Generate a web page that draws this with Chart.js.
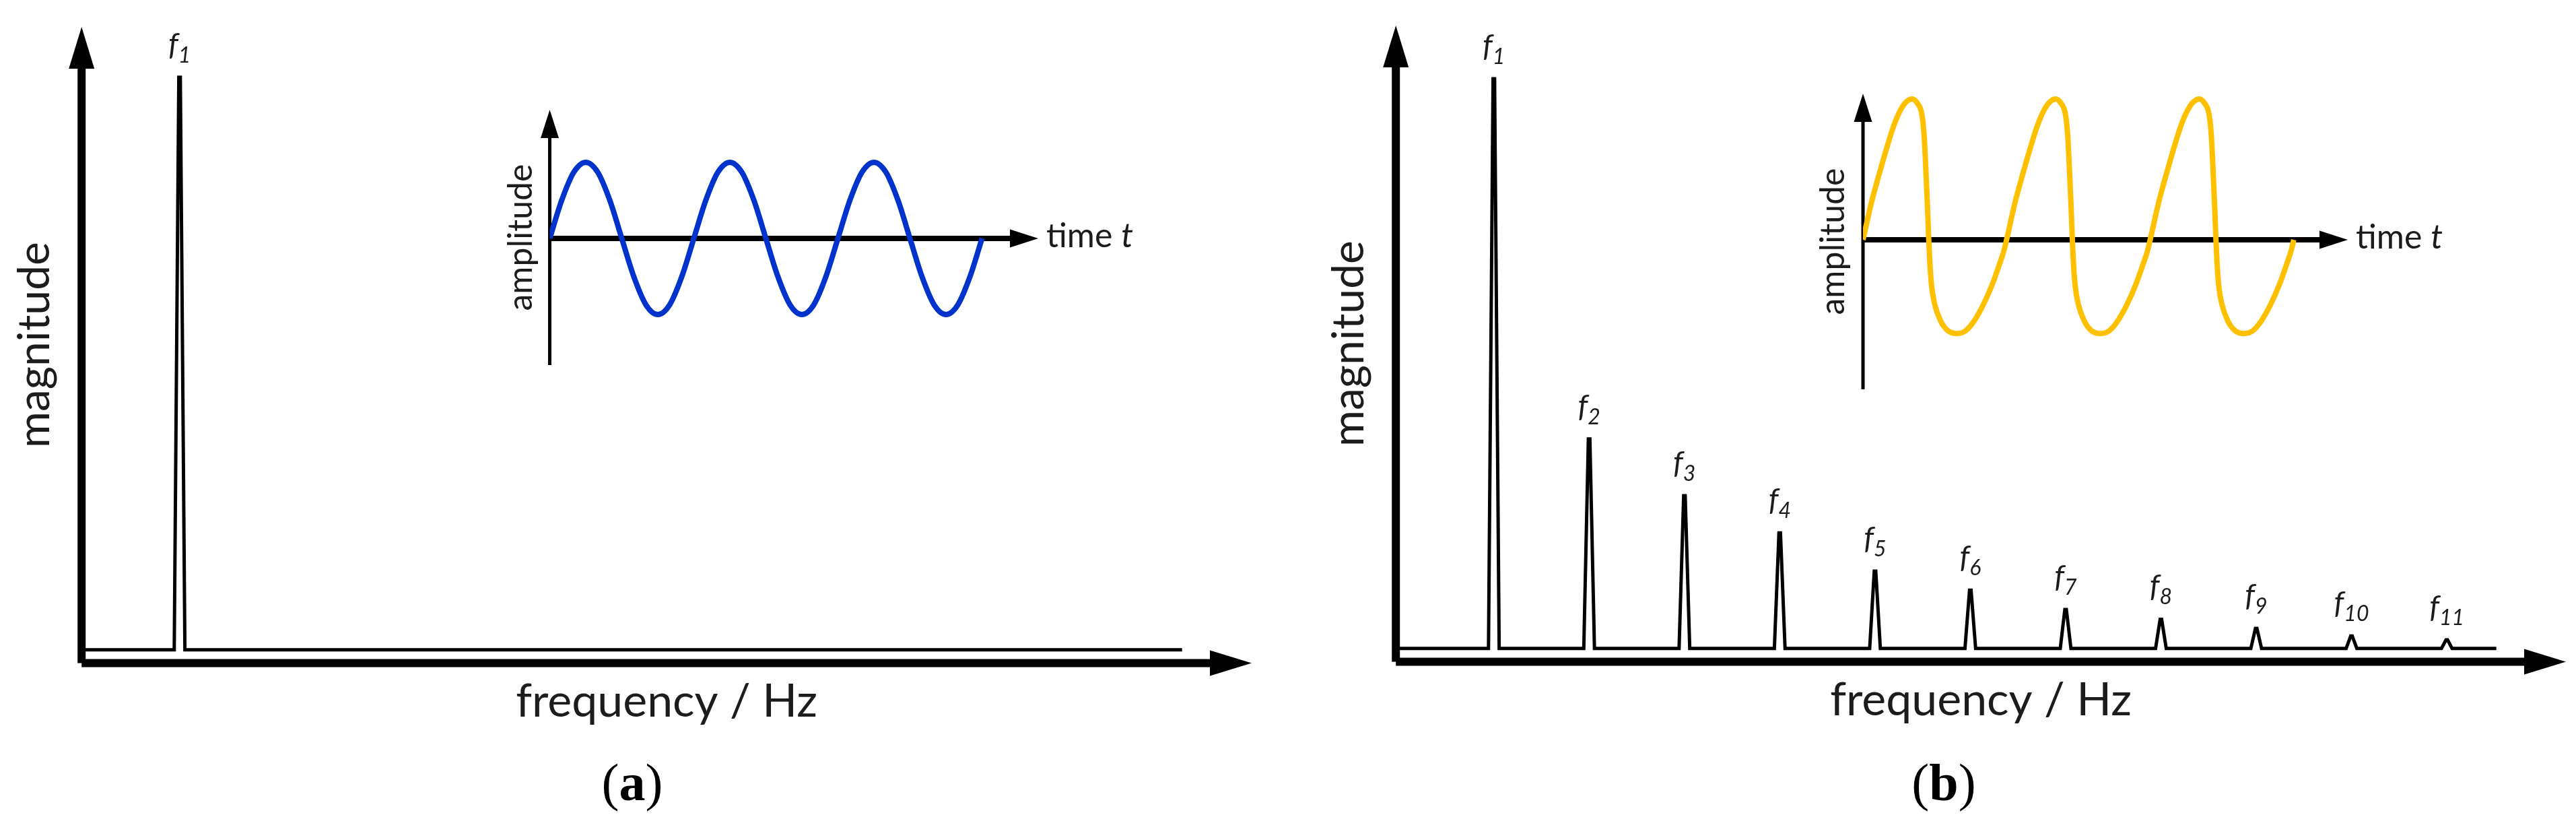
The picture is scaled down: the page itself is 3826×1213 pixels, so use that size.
<!DOCTYPE html>
<html>
<head>
<meta charset="utf-8">
<title>Spectrum of a sine and a distorted wave</title>
<script src="https://cdn.jsdelivr.net/npm/chart.js@4"></script>
<style>
    html, body { margin: 0; padding: 0; background: #fff; }
    body { position: relative; width: 3826px; height: 1213px; overflow: hidden; }
    canvas { position: absolute; }
    .caption {
        position: absolute; top: 1123px; width: 300px; text-align: center;
        font: 78px/1 "Liberation Serif", serif; color: #000;
    }
</style>
</head>
<body>
<canvas id="spectrumA" width="1900" height="1100" style="left:0;top:0"></canvas>
<canvas id="spectrumB" width="1900" height="1100" style="left:1952px;top:-2px"></canvas>
<canvas id="waveA" width="1000" height="480" style="left:700px;top:120px"></canvas>
<canvas id="waveB" width="1000" height="500" style="left:2650px;top:100px"></canvas>
<div class="caption" style="left:789px">(<b>a</b>)</div>
<div class="caption" style="left:2737px">(<b>b</b>)</div>

<script>
    // Peaks, x is the harmonic number, y is percent of f1
    var harmonicsA = [1];
    var magnitudesA = [100];
    var harmonicsB = [1, 2, 3, 4, 5, 6, 7, 8, 9, 10, 11];
    var magnitudesB = [99.5, 36.6, 26.7, 20.2, 13.5, 10.2, 6.8, 5.1, 3.5, 2.2, 1.5];
    var baselineEnd = 11.52;
    var peakHalfWidth = 0.056;
    var peakTipHalfWidth = 0.008;

    // Inset a, time in periods
    var waveATime = [0, 0.083, 0.167, 0.25, 0.333, 0.417, 0.5, 0.583, 0.667, 0.75, 0.833, 0.917,
        1, 1.083, 1.167, 1.25, 1.333, 1.417, 1.5, 1.583, 1.667, 1.75, 1.833, 1.917,
        2, 2.083, 2.167, 2.25, 2.333, 2.417, 2.5, 2.583, 2.667, 2.75, 2.833, 2.917, 3];
    var waveAAmplitude = [0, 0.5, 0.87, 1, 0.87, 0.5, 0, -0.5, -0.87, -1, -0.87, -0.5,
        0, 0.5, 0.87, 1, 0.87, 0.5, 0, -0.5, -0.87, -1, -0.87, -0.5,
        0, 0.5, 0.87, 1, 0.87, 0.5, 0, -0.5, -0.87, -1, -0.87, -0.5, 0];

    // Inset b, time in periods
    var waveBTime = [0, 0.059, 0.122, 0.169, 0.216, 0.263, 0.302, 0.341, 0.38, 0.411, 0.427, 0.439, 0.45, 0.458, 0.466, 0.478, 0.5, 0.54, 0.591, 0.653, 0.716, 0.778, 0.841, 0.903, 0.95, 0.981,
        1, 1.059, 1.122, 1.169, 1.216, 1.263, 1.302, 1.341, 1.38, 1.411, 1.427, 1.439, 1.45, 1.458, 1.466, 1.478, 1.5, 1.54, 1.591, 1.653, 1.716, 1.778, 1.841, 1.903, 1.95, 1.981,
        2, 2.059, 2.122, 2.169, 2.216, 2.263, 2.302, 2.341, 2.38, 2.411, 2.427, 2.439, 2.45, 2.458, 2.466, 2.478, 2.5, 2.54, 2.591, 2.653, 2.716, 2.778, 2.841, 2.903, 2.95, 2.981, 3];
    var waveBAmplitude = [0, 0.265, 0.5, 0.665, 0.815, 0.925, 0.98, 1, 0.968, 0.885, 0.72, 0.47, 0.215, 0, -0.17, -0.33, -0.46, -0.575, -0.645, -0.666, -0.645, -0.57, -0.455, -0.31, -0.175, -0.08,
        0, 0.265, 0.5, 0.665, 0.815, 0.925, 0.98, 1, 0.968, 0.885, 0.72, 0.47, 0.215, 0, -0.17, -0.33, -0.46, -0.575, -0.645, -0.666, -0.645, -0.57, -0.455, -0.31, -0.175, -0.08,
        0, 0.265, 0.5, 0.665, 0.815, 0.925, 0.98, 1, 0.968, 0.885, 0.72, 0.47, 0.215, 0, -0.17, -0.33, -0.46, -0.575, -0.645, -0.666, -0.645, -0.57, -0.455, -0.31, -0.175, -0.08, 0];

    var textColor = "#1c1c1c";
    var mainFont = 'Lato, sans-serif';

    // Baseline with one narrow tent per peak
    function spectrumPoints(harmonics, magnitudes, xMin) {
        var points = [{ x: xMin, y: 0 }];
        harmonics.forEach(function (h, i) {
            points.push({ x: h - peakHalfWidth, y: 0 });
            points.push({ x: h - peakTipHalfWidth, y: magnitudes[i] });
            points.push({ x: h + peakTipHalfWidth, y: magnitudes[i] });
            points.push({ x: h + peakHalfWidth, y: 0 });
        });
        points.push({ x: baselineEnd, y: 0 });
        return points;
    }

    function wavePoints(times, amplitudes) {
        return times.map(function (t, i) {
            return { x: t, y: amplitudes[i] };
        });
    }

    // Axis lines with arrow heads, the scale area runs out to the arrow tips
    var arrowAxes = {
        id: "arrowAxes",
        beforeDatasetsDraw: function (chart, args, opts) {
            var ctx = chart.ctx;
            var area = chart.chartArea;
            var crossY = chart.scales.y.getPixelForValue(opts.crossAt);
            ctx.save();
            ctx.fillStyle = "#000";
            ctx.strokeStyle = "#000";

            ctx.lineWidth = opts.yWidth;
            ctx.beginPath();
            ctx.moveTo(area.left, area.bottom);
            ctx.lineTo(area.left, area.top + opts.headLength);
            ctx.stroke();

            ctx.lineWidth = opts.xWidth;
            ctx.beginPath();
            ctx.moveTo(area.left, crossY);
            ctx.lineTo(area.right - opts.headLength, crossY);
            ctx.stroke();

            ctx.beginPath();
            ctx.moveTo(area.left, area.top);
            ctx.lineTo(area.left - opts.headWidth / 2, area.top + opts.headLength);
            ctx.lineTo(area.left + opts.headWidth / 2, area.top + opts.headLength);
            ctx.closePath();
            ctx.fill();

            ctx.beginPath();
            ctx.moveTo(area.right, crossY);
            ctx.lineTo(area.right - opts.headLength, crossY - opts.headWidth / 2);
            ctx.lineTo(area.right - opts.headLength, crossY + opts.headWidth / 2);
            ctx.closePath();
            ctx.fill();
            ctx.restore();
        }
    };

    // f with an italic subscript above each peak
    var peakLabels = {
        id: "peakLabels",
        afterDatasetsDraw: function (chart, args, opts) {
            var ctx = chart.ctx;
            ctx.save();
            ctx.fillStyle = textColor;
            ctx.textAlign = "left";
            ctx.textBaseline = "alphabetic";
            opts.harmonics.forEach(function (h, i) {
                var sub = String(h);
                var x = chart.scales.x.getPixelForValue(h);
                var y = chart.scales.y.getPixelForValue(opts.magnitudes[i]);
                ctx.font = "italic 46px " + mainFont;
                var fWidth = ctx.measureText("f").width;
                ctx.font = "italic 32px " + mainFont;
                var subWidth = ctx.measureText(sub).width;
                var left = x - (fWidth + subWidth) / 2;
                ctx.font = "italic 46px " + mainFont;
                ctx.fillText("f", left, y - 33);
                ctx.font = "italic 32px " + mainFont;
                ctx.fillText(sub, left + fWidth, y - 22);
            });
            ctx.restore();
        }
    };

    // "time t" sits right after the arrow tip
    var timeLabel = {
        id: "timeLabel",
        afterDatasetsDraw: function (chart) {
            var ctx = chart.ctx;
            var x = chart.chartArea.right + 12;
            var y = chart.scales.y.getPixelForValue(0) + 13;
            ctx.save();
            ctx.fillStyle = textColor;
            ctx.textBaseline = "alphabetic";
            ctx.font = "50px " + mainFont;
            var prefix = "time ";
            ctx.fillText(prefix, x, y);
            var width = ctx.measureText(prefix).width;
            ctx.font = "italic 50px " + mainFont;
            ctx.fillText("t", x + width, y);
            ctx.restore();
        }
    };

    function hiddenParts() {
        return {
            grid: { display: false, drawTicks: false },
            border: { display: false },
            ticks: { display: false }
        };
    }

    function makeSpectrum(id, harmonics, magnitudes) {
        var xMin = -0.028;
        var xScale = hiddenParts();
        xScale.type = "linear";
        xScale.min = xMin;
        xScale.max = 12.25;
        xScale.title = {
            display: true,
            text: "frequency / Hz",
            color: textColor,
            font: { family: mainFont, size: 68, lineHeight: 1.2 },
            padding: { top: 17, bottom: 17 }
        };
        var yScale = hiddenParts();
        yScale.min = -2.3;
        yScale.max = 108.8;
        yScale.title = {
            display: true,
            text: "magnitude",
            color: textColor,
            font: { family: mainFont, size: 66, lineHeight: 1.2 },
            padding: { top: 12, bottom: 30 }
        };
        return new Chart(document.getElementById(id), {
            type: "line",
            data: {
                datasets: [{
                    data: spectrumPoints(harmonics, magnitudes, xMin),
                    borderColor: "#000",
                    borderWidth: 5,
                    pointRadius: 0,
                    tension: 0
                }]
            },
            plugins: [arrowAxes, peakLabels],
            options: {
                responsive: false,
                animation: false,
                layout: { padding: { top: 40, right: 41, left: 0, bottom: 0 } },
                scales: { x: xScale, y: yScale },
                plugins: {
                    legend: { display: false },
                    tooltip: { enabled: false },
                    arrowAxes: { crossAt: -2.3, xWidth: 12, yWidth: 12, headLength: 62, headWidth: 38 },
                    peakLabels: { harmonics: harmonics, magnitudes: magnitudes }
                }
            }
        });
    }

    function makeWave(id, times, amplitudes, color, lineWidth, ranges, padding, titlePadding) {
        var xScale = hiddenParts();
        xScale.type = "linear";
        xScale.display = false;
        xScale.min = 0;
        xScale.max = ranges.xMax;
        var yScale = hiddenParts();
        yScale.min = ranges.yMin;
        yScale.max = ranges.yMax;
        yScale.title = {
            display: true,
            text: "amplitude",
            color: textColor,
            font: { family: mainFont, size: 50, lineHeight: 1.2 },
            padding: titlePadding
        };
        return new Chart(document.getElementById(id), {
            type: "line",
            data: {
                datasets: [{
                    data: wavePoints(times, amplitudes),
                    borderColor: color,
                    borderWidth: lineWidth,
                    pointRadius: 0,
                    cubicInterpolationMode: "monotone"
                }]
            },
            plugins: [arrowAxes, timeLabel],
            options: {
                responsive: false,
                animation: false,
                layout: { padding: padding },
                scales: { x: xScale, y: yScale },
                plugins: {
                    legend: { display: false },
                    tooltip: { enabled: false },
                    arrowAxes: { crossAt: 0, xWidth: 8, yWidth: 5, headLength: 42, headWidth: 27 }
                }
            }
        });
    }

    makeSpectrum("spectrumA", harmonicsA, magnitudesA);
    makeSpectrum("spectrumB", harmonicsB, magnitudesB);

    makeWave("waveA", waveATime, waveAAmplitude, "#0033cc", 8,
        { xMax: 3.39, yMin: -1.664, yMax: 1.69 },
        { top: 43, right: 158, bottom: 58, left: 0 },
        { top: 43.5, bottom: 13 });
    makeWave("waveB", waveBTime, waveBAmplitude, "#ffc000", 8,
        { xMax: 3.376, yMin: -1.062, yMax: 1.038 },
        { top: 39, right: 163, bottom: 22, left: 0 },
        { top: 42.5, bottom: 14.5 });
</script>
</body>
</html>
